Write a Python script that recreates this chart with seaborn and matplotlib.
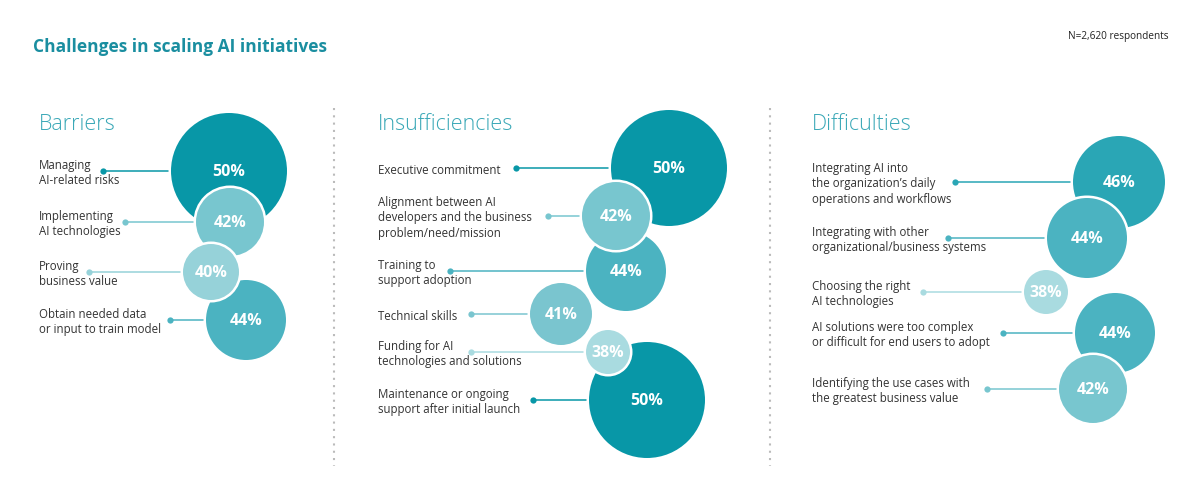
import matplotlib
matplotlib.use("Agg")
import matplotlib.pyplot as plt
import seaborn as sns
import pandas as pd

# ---------------- data ----------------
barriers_labels = ["Managing\nAI-related risks", "Implementing\nAI technologies",
                   "Proving\nbusiness value", "Obtain needed data\nor input to train model"]
barriers_values = [50, 42, 40, 44]

insuff_labels = ["Executive commitment",
                 "Alignment between AI\ndevelopers and the business\nproblem/need/mission",
                 "Training to\nsupport adoption", "Technical skills",
                 "Funding for AI\ntechnologies and solutions",
                 "Maintenance or ongoing\nsupport after initial launch"]
insuff_values = [50, 42, 44, 41, 38, 50]

diff_labels = ["Integrating AI into\nthe organization\u2019s daily\noperations and workflows",
               "Integrating with other\norganizational/business systems",
               "Choosing the right\nAI technologies",
               "AI solutions were too complex\nor difficult for end users to adopt",
               "Identifying the use cases with\nthe greatest business value"]
diff_values = [46, 44, 38, 44, 42]

panel_titles = ["Barriers", "Insufficiencies", "Difficulties"]
chart_title = "Challenges in scaling AI initiatives"
note = "N=2,620 respondents"

# ---------------- layout (pixel units) ----------------
layout = [
    dict(text_x=39, dot_x=[103, 125, 89, 170], bub_x=[229, 230, 211, 246],
         row_y=[171, 222, 272, 320]),
    dict(text_x=378, dot_x=[516, 548, 450, 471, 471, 533], bub_x=[669, 616, 626, 561, 608, 647],
         row_y=[168, 216, 271, 314, 352, 400]),
    dict(text_x=812, dot_x=[955, 948, 923, 1003, 987], bub_x=[1119, 1087, 1046, 1115, 1093],
         row_y=[182, 238, 292, 333, 389]),
]

# ---------------- style ----------------
value_colors = {50: "#0897a7", 46: "#2aa6b5", 44: "#4bb3c1", 42: "#78c6cf",
                41: "#7ac5cf", 40: "#96d2d9", 38: "#a9dbe0"}
title_color = "#1a8ea0"
header_color = "#3aa8b7"
text_color = "#333333"
edge_px = 2.5
DPI = 100


def radius_px(v):
    return 3.0 * v - 92.0


def marker_area(v):
    d_pt = 2 * (radius_px(v) + edge_px / 2) * 72.0 / DPI
    return d_pt ** 2


sns.set_theme(style="white")
plt.rcParams['font.family'] = ['Open Sans', 'DejaVu Sans']

fig = plt.figure(figsize=(12, 5), dpi=DPI)
ax = fig.add_axes([0, 0, 1, 1])

ax.text(33, 47, chart_title, fontsize=12.5, fontweight="bold", color=title_color,
        va="center", ha="left")
ax.text(1068, 36, note, fontsize=7.2, color="#222222", va="center", ha="left")

for sx in (334, 770):
    ax.plot([sx, sx], [108, 466], color="#bbbbbb", lw=1.5, ls=(0, (1, 2.5)), zorder=0)

all_labels = [barriers_labels, insuff_labels, diff_labels]
all_values = [barriers_values, insuff_values, diff_values]

for title, labels, values, lay in zip(panel_titles, all_labels, all_values, layout):
    ax.text(lay["text_x"], 125, title, fontsize=15.5, fontweight="light",
            color=header_color, va="center", ha="left")
    for lab, v, dx, bx, y in zip(labels, values, lay["dot_x"], lay["bub_x"], lay["row_y"]):
        c = value_colors[v]
        ax.text(lay["text_x"], y + 2, lab, fontsize=8.3, color=text_color,
                va="center", ha="left", linespacing=1.25)
        ax.plot([dx, bx], [y, y], color=c, lw=1.1, zorder=1)
        ax.plot([dx], [y], marker="o", ms=4.5, color=c, mec="none", zorder=1)
    df = pd.DataFrame({"x": lay["bub_x"], "y": lay["row_y"], "value": values})
    df = df.sort_values("value", ascending=False, kind="stable")
    sns.scatterplot(data=df, x="x", y="y", hue="value", size="value",
                    palette=value_colors,
                    sizes={v: marker_area(v) for v in df["value"].unique()},
                    edgecolor="white", linewidth=edge_px * 72 / DPI,
                    legend=False, ax=ax, zorder=2)
    for v, bx, y in zip(values, lay["bub_x"], lay["row_y"]):
        ax.text(bx, y + 1, f"{v}%", fontsize=11.5, fontweight="bold", color="white",
                ha="center", va="center", zorder=5)

ax.set_xlim(0, 1200)
ax.set_ylim(500, 0)
ax.axis("off")
fig.savefig("out.png", dpi=DPI)
